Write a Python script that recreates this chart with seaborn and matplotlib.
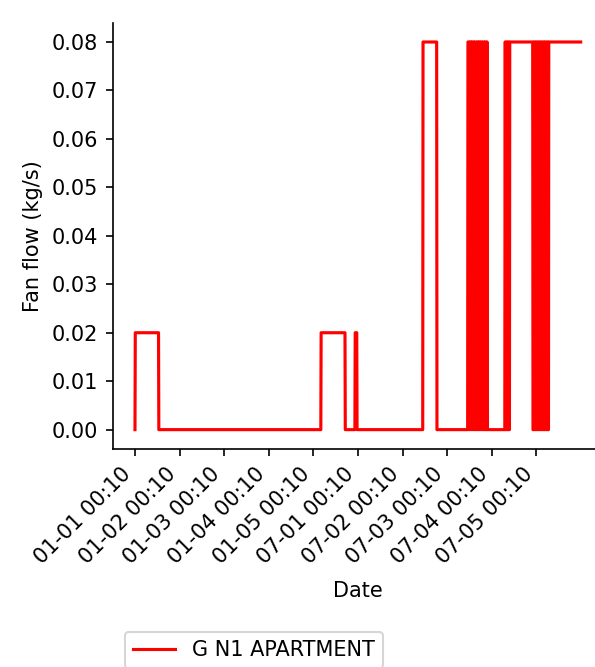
import numpy as np
import pandas as pd
import matplotlib.pyplot as plt
import seaborn as sns

# fan flow, run-length coded in 10-minute steps: level (kg/s) and number of steps
levels_a = [0.0, 0.02, 0.0, 0.02, 0.0, 0.02, 0.0, 0.08, 0.0]
steps_a = [1, 76, 524, 78, 32, 6, 213, 45, 100]

# on/off cycling bursts (runs alternate between the two levels)
burst1_levels = (0.08, 0.0)
burst1_steps = [3, 3, 4, 2, 3, 3, 3, 3, 4, 3, 3, 2, 3, 3, 4, 3, 3, 3, 3, 3, 2, 2]

levels_b = [0.0]
steps_b = [55]

burst2_levels = (0.08, 0.0)
burst2_steps = [2, 3, 2, 3, 2, 3]

levels_c = [0.08]
steps_c = [75]

burst3_levels = (0.0, 0.08)
burst3_steps = [3, 3, 3, 3, 3, 3, 3, 3, 3, 3, 3, 3, 3, 3, 3, 3, 3, 4]

levels_d = [0.08]
steps_d = [100]

period_starts = ["2021-01-01 00:10", "2021-07-01 00:10"]
steps_per_period = 720
tick_every = 144
series_name = "G N1 APARTMENT"


def burst(lv, steps):
    return [lv[i % 2] for i in range(len(steps))], steps


parts = [
    (levels_a, steps_a),
    burst(burst1_levels, burst1_steps),
    (levels_b, steps_b),
    burst(burst2_levels, burst2_steps),
    (levels_c, steps_c),
    burst(burst3_levels, burst3_steps),
    (levels_d, steps_d),
]
flow = np.concatenate([np.repeat(lv, st) for lv, st in parts])

dates = pd.DatetimeIndex(np.concatenate([
    pd.date_range(s, periods=steps_per_period, freq="10min").values
    for s in period_starts
]))
labels = list(dates.strftime("%m-%d %H:%M"))

df = pd.DataFrame({"Date": labels, "Fan flow (kg/s)": flow})

fig = plt.figure(figsize=(595 / 150, 667 / 150))
ax = fig.add_axes([0.1894, 0.3268, 0.824, 0.6393])

sns.lineplot(data=df, x="Date", y="Fan flow (kg/s)", color="red",
             label=series_name, sort=False, estimator=None, ax=ax)
sns.despine(ax=ax)

ticks = np.arange(0, len(labels), tick_every)
ax.set_xticks(ticks)
ax.set_xticklabels([labels[i] for i in ticks], rotation=45, ha="right")
ax.set_xlabel("Date", labelpad=6.5)

ax.legend(loc="upper left", bbox_to_anchor=(0.21, 0.0525),
          bbox_transform=fig.transFigure, borderaxespad=0)

fig.savefig("out.png", dpi=150)
